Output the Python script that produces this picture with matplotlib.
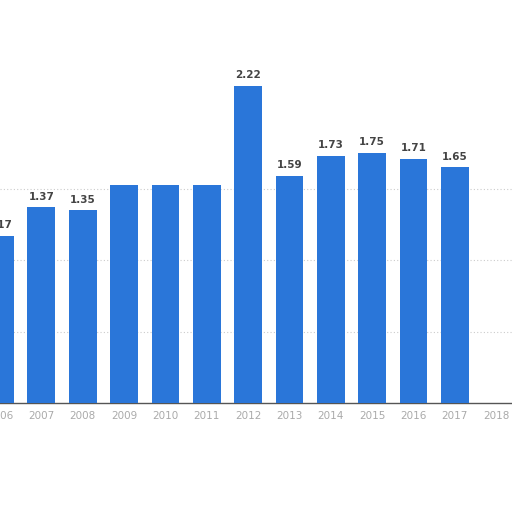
import numpy as np
import matplotlib.pyplot as plt

years = ['2006', '2007', '2008', '2009', '2010', '2011', '2012',
         '2013', '2014', '2015', '2016', '2017', '2018']
values = [1.17, 1.37, 1.35, 1.53, 1.53, 1.53, 2.22,
          1.59, 1.73, 1.75, 1.71, 1.65, 0.0]
labels = ['1.17', '1.37', '1.35', '', '', '', '2.22',
          '1.59', '1.73', '1.75', '1.71', '1.65', '']

fig = plt.figure(figsize=(5.12, 5.12), dpi=100)
ax = fig.add_axes([0, 0.213, 1, 0.697])

x = np.arange(len(years))
bars = ax.bar(x, values, width=0.67, color='#2a76d9', zorder=3)

for xi, v, lab in zip(x, values, labels):
    if lab:
        ax.text(xi, v + 0.04, lab, ha='center', va='bottom',
                fontsize=7.5, fontweight='bold', color='#444444', zorder=4)

ax.set_xlim(0.108, 12.386)
ax.set_ylim(0, 2.5)
ax.set_yticks([0.5, 1.0, 1.5])
ax.yaxis.grid(True, linestyle=(0, (1, 2)), color='#cccccc', linewidth=0.8, zorder=0)
ax.set_yticklabels([])
ax.tick_params(axis='y', length=0)

ax.set_xticks(x)
ax.set_xticklabels(years, fontsize=7.5, color='#aaaaaa')
ax.tick_params(axis='x', length=0, pad=6)

for side in ['top', 'right', 'left']:
    ax.spines[side].set_visible(False)
ax.spines['bottom'].set_color('#555555')
ax.spines['bottom'].set_linewidth(1.0)

plt.savefig('out.png', dpi=100)
